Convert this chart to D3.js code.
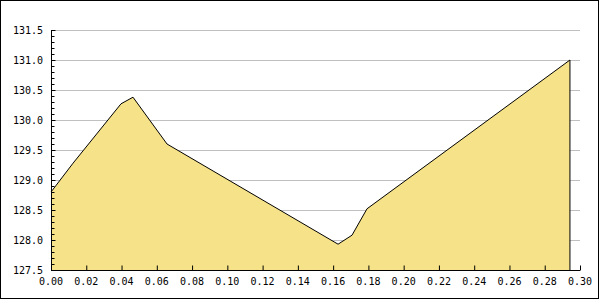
<!DOCTYPE html>
<html>
<head>
<meta charset="utf-8">
<script src="https://cdn.jsdelivr.net/npm/d3@7"></script>
<style>
  html, body { margin: 0; padding: 0; background: #fff; }
  svg { display: block; }
</style>
</head>
<body>
<svg id="chart"></svg>
<script>
// data
var xValues = [0.000, 0.0125, 0.0397, 0.0465, 0.0658, 0.1628, 0.1707, 0.1792, 0.2943];
var yValues = [128.80, 129.28, 130.27, 130.38, 129.60, 127.93, 128.08, 128.52, 131.00];
var xTicks = [0, 0.02, 0.04, 0.06, 0.08, 0.10, 0.12, 0.14, 0.16, 0.18, 0.20, 0.22, 0.24, 0.26, 0.28, 0.30];
var yTicks = [127.5, 128.0, 128.5, 129.0, 129.5, 130.0, 130.5, 131.0, 131.5];

var width = 600, height = 300;
var fillColor = "#f6e288";
var gridColor = "#c0c0c0";

var svg = d3.select("#chart").attr("width", width).attr("height", height);

// outer frame
svg.append("rect")
   .attr("x", 0.5).attr("y", 0.5)
   .attr("width", 598).attr("height", 298)
   .attr("fill", "#fff").attr("stroke", "#000").attr("stroke-width", 1);

var xScale = d3.scaleLinear().domain([0, 0.30]).range([51, 580]);
var yScale = d3.scaleLinear().domain([127.5, 131.5]).range([270, 30]);

var points = xValues.map((d, i) => ({x: d, y: yValues[i]}));

// gridlines
svg.append("g").selectAll("line")
   .data(yTicks.slice(1))
   .enter().append("line")
   .attr("x1", xScale(0)).attr("x2", xScale(0.30))
   .attr("y1", d => Math.round(yScale(d)) + 0.5)
   .attr("y2", d => Math.round(yScale(d)) + 0.5)
   .attr("stroke", gridColor).attr("stroke-width", 1);

// area
var area = d3.area()
   .x(d => xScale(d.x))
   .y0(yScale(127.5))
   .y1(d => yScale(d.y));
svg.append("path")
   .datum(points)
   .attr("d", area)
   .attr("fill", fillColor);

// outline: top line plus right edge drop
var last = points[points.length - 1];
var line = d3.line().x(d => xScale(d.x)).y(d => yScale(d.y));
svg.append("path")
   .datum(points.concat([{x: last.x, y: 127.5}]))
   .attr("d", line)
   .attr("fill", "none")
   .attr("stroke", "#000").attr("stroke-width", 1);

// y axis: ticks inside, minor ticks every 0.1
var yAxis = d3.axisRight(yScale)
   .tickValues(yTicks)
   .tickSize(4)
   .tickFormat("");
var gy = svg.append("g")
   .attr("transform", "translate(" + (xScale(0) + 0.5) + ",0)")
   .call(yAxis);
var minor = d3.range(127.5, 131.51, 0.1);
gy.selectAll(".minor")
   .data(minor)
   .enter().append("line")
   .attr("class", "minor")
   .attr("x1", 0).attr("x2", 3)
   .attr("y1", d => Math.round(yScale(d)) + 0.5)
   .attr("y2", d => Math.round(yScale(d)) + 0.5)
   .attr("stroke", "#000");
gy.select(".domain").attr("d", "M0," + yScale(131.5) + "V" + yScale(127.5));

svg.append("g").selectAll("text")
   .data(yTicks)
   .enter().append("text")
   .attr("x", 43)
   .attr("y", d => yScale(d) + 4)
   .attr("text-anchor", "end")
   .attr("font-family", "DejaVu Sans Mono")
   .attr("font-size", 10)
   .attr("fill", "#000")
   .text(d => d.toFixed(1));

// x axis: ticks pointing up
var xAxis = d3.axisTop(xScale)
   .tickValues(xTicks)
   .tickSize(5)
   .tickFormat("");
var gx = svg.append("g")
   .attr("transform", "translate(0," + (yScale(127.5) + 0.5) + ")")
   .call(xAxis);
gx.select(".domain").attr("d", "M" + xScale(0) + ",0H" + xScale(0.30));

svg.append("g").selectAll("text")
   .data(xTicks)
   .enter().append("text")
   .attr("x", d => xScale(d))
   .attr("y", 285)
   .attr("text-anchor", "middle")
   .attr("font-family", "DejaVu Sans Mono")
   .attr("font-size", 10)
   .attr("fill", "#000")
   .text(d => d.toFixed(2));
</script>
</body>
</html>
